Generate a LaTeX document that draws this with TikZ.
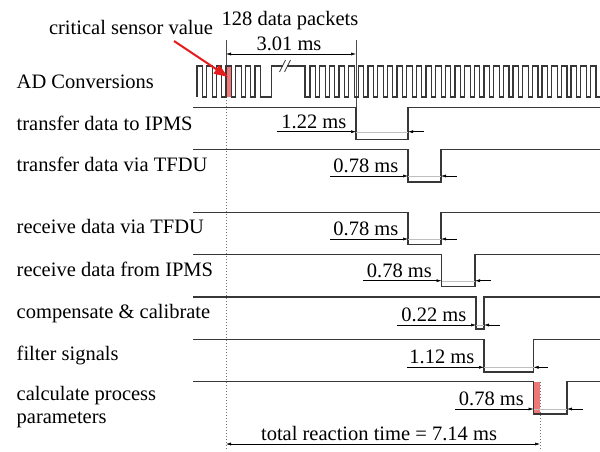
\documentclass[tikz,border=0pt]{standalone}
\usepackage{fontspec}
\setmainfont{Liberation Serif}
\usetikzlibrary{arrows.meta}
\definecolor{sig}{RGB}{55,55,55}
\definecolor{hl}{RGB}{238,120,120}
\definecolor{redarrow}{RGB}{228,28,28}
% one timing row: name, y high, y low, x fall, x rise, y arrow, x arrow start, x arrow end, value
\newcommand\trow[9]{%
  \coordinate (#1hl) at (193,#2);
  \coordinate (#1f) at (#4,#2);
  \coordinate (#1fl) at (#4,#3);
  \coordinate (#1rl) at (#5,#3);
  \coordinate (#1r) at (#5,#2);
  \coordinate (#1hr) at (600,#2);
  \draw[sigline] (#1hl) -- (#1f) -- (#1fl) -- (#1rl) -- (#1r) -- (#1hr);
  \coordinate (#1da) at (#7,#6);
  \coordinate (#1db) at (#4,#6);
  \coordinate (#1dc) at (#5,#6);
  \coordinate (#1dd) at (#8,#6);
  \draw[innerline] (#1db) -- (#1dc);
  \draw[dimarrow] (#1da) -- (#1db);
  \draw[dimarrow] (#1dd) -- (#1dc);
  \node[val, xshift=-9.5pt, yshift=3.5pt] (#1v) at (#1db) {#9};
}
\begin{document}
\begin{tikzpicture}[x=1pt,y=-1pt,
  font=\fontsize{20.5}{23.3}\selectfont,
  sigline/.style={draw=sig, line width=1.2pt, line join=miter},
  dimarrow/.style={draw=black, line width=0.5pt, -{Latex[length=5pt,width=3pt]}},
  dimboth/.style={draw=black, line width=0.5pt, {Latex[length=5pt,width=3pt]}-{Latex[length=5pt,width=3pt]}},
  innerline/.style={draw=black!25, line width=0.4pt},
  tick/.style={draw=black!70, line width=0.6pt},
  dotline/.style={draw=black!55, line width=0.6pt, dash pattern=on 1pt off 2pt},
  txt/.style={inner sep=0pt, anchor=base west},
  val/.style={inner sep=0pt, anchor=base east},
  ctr/.style={inner sep=0pt, anchor=base}]

\useasboundingbox[fill=white] (0,0) rectangle (600,452);

% row labels
\node[txt] (lad) at (16.5,88.3) {AD Conversions};
\node[txt] (ltp) at (16.5,130.7) {transfer data to IPMS};
\node[txt] (ltv) at (16.5,171) {transfer data via TFDU};
\node[txt] (lrv) at (16.5,233.3) {receive data via TFDU};
\node[txt] (lri) at (16.5,276.7) {receive data from IPMS};
\node[txt] (lcc) at (16.5,318) {compensate \& calibrate};
\node[txt] (lfs) at (16.5,360) {filter signals};
\node[txt] (lcp) at (16.5,400) {calculate process};
\node[txt] (lcq) at (16.5,423.3) {parameters};

% top labels
\node[ctr] (crit) at (131,35) {critical sensor value};
\node[ctr] (pack) at (290,26) {128 data packets};
\node[ctr] (t301) at (289,50.5) {3.01 ms};

% highlighted sample and last step
\fill[hl] (226,66) rectangle (231.5,97);
\fill[hl] (533.5,381.7) rectangle (540,414);

% reference lines
\coordinate (ta) at (226,40);
\coordinate (tb) at (226,97);
\coordinate (tc) at (356,40);
\coordinate (td) at (356,107.3);
\coordinate (dA) at (226,450);
\coordinate (eA) at (540,382);
\coordinate (eB) at (540,450);
\draw[tick] (ta) -- (tb);
\draw[tick] (tc) -- (td);
\draw[dotline] (tb) -- (dA);
\draw[dotline] (eA) -- (eB);

% 3.01 ms dimension
\coordinate (m1) at (226,54);
\coordinate (m2) at (356,54);
\draw[dimboth] (m1) -- (m2);

% AD conversion clock
\draw[sigline] (197,97)
  \foreach \k in {0,...,6}{ -- ({197+9.67*\k},97) -- ({197+9.67*\k},66) -- ({202.5+9.67*\k},66) -- ({202.5+9.67*\k},97) }
  -- (271.7,97) -- (271.7,66) -- (283,66);
\draw[sigline] (287,66) -- (305,66) -- (305,97)
  \foreach \k in {0,...,29}{ -- ({310+9.67*\k},97) -- ({310+9.67*\k},66) -- ({315.5+9.67*\k},66) -- ({315.5+9.67*\k},97) }
  -- (600,97);
\draw[draw=sig, line width=0.8pt] (279.5,72) -- (285.5,60);
\draw[draw=sig, line width=0.8pt] (284.5,72) -- (290.5,60);

% timing rows
\trow{ip}{107.3}{139.5}{356}{408}{131.7}{277}{424}{1.22 ms}
\trow{tv}{149.5}{182}{408}{441}{176}{330}{456.7}{0.78 ms}
\trow{rv}{212.3}{244.3}{408}{441}{239}{330}{456.7}{0.78 ms}
\trow{ri}{254.5}{286.7}{441.5}{475}{280.7}{363}{490.7}{0.78 ms}
\trow{cc}{297}{329}{476}{484}{325}{397}{500}{0.22 ms}
\trow{fs}{339.5}{372}{484}{533.5}{367.3}{406.7}{548}{1.12 ms}
\trow{cp}{381.7}{414}{533.5}{567}{409}{455}{582.7}{0.78 ms}

% total reaction time
\coordinate (r1) at (226,444);
\coordinate (r2) at (540,444);
\draw[dimboth] (r1) -- (r2);
\node[ctr] (tot) at (379,440) {total reaction time = 7.14 ms};

% red pointer
\coordinate (ps) at (174,41);
\coordinate (pe) at (228,77);
\draw[draw=redarrow, line width=2pt, -{Triangle[length=14pt,width=10pt]}] (ps) -- (pe);
\end{tikzpicture}
\end{document}
